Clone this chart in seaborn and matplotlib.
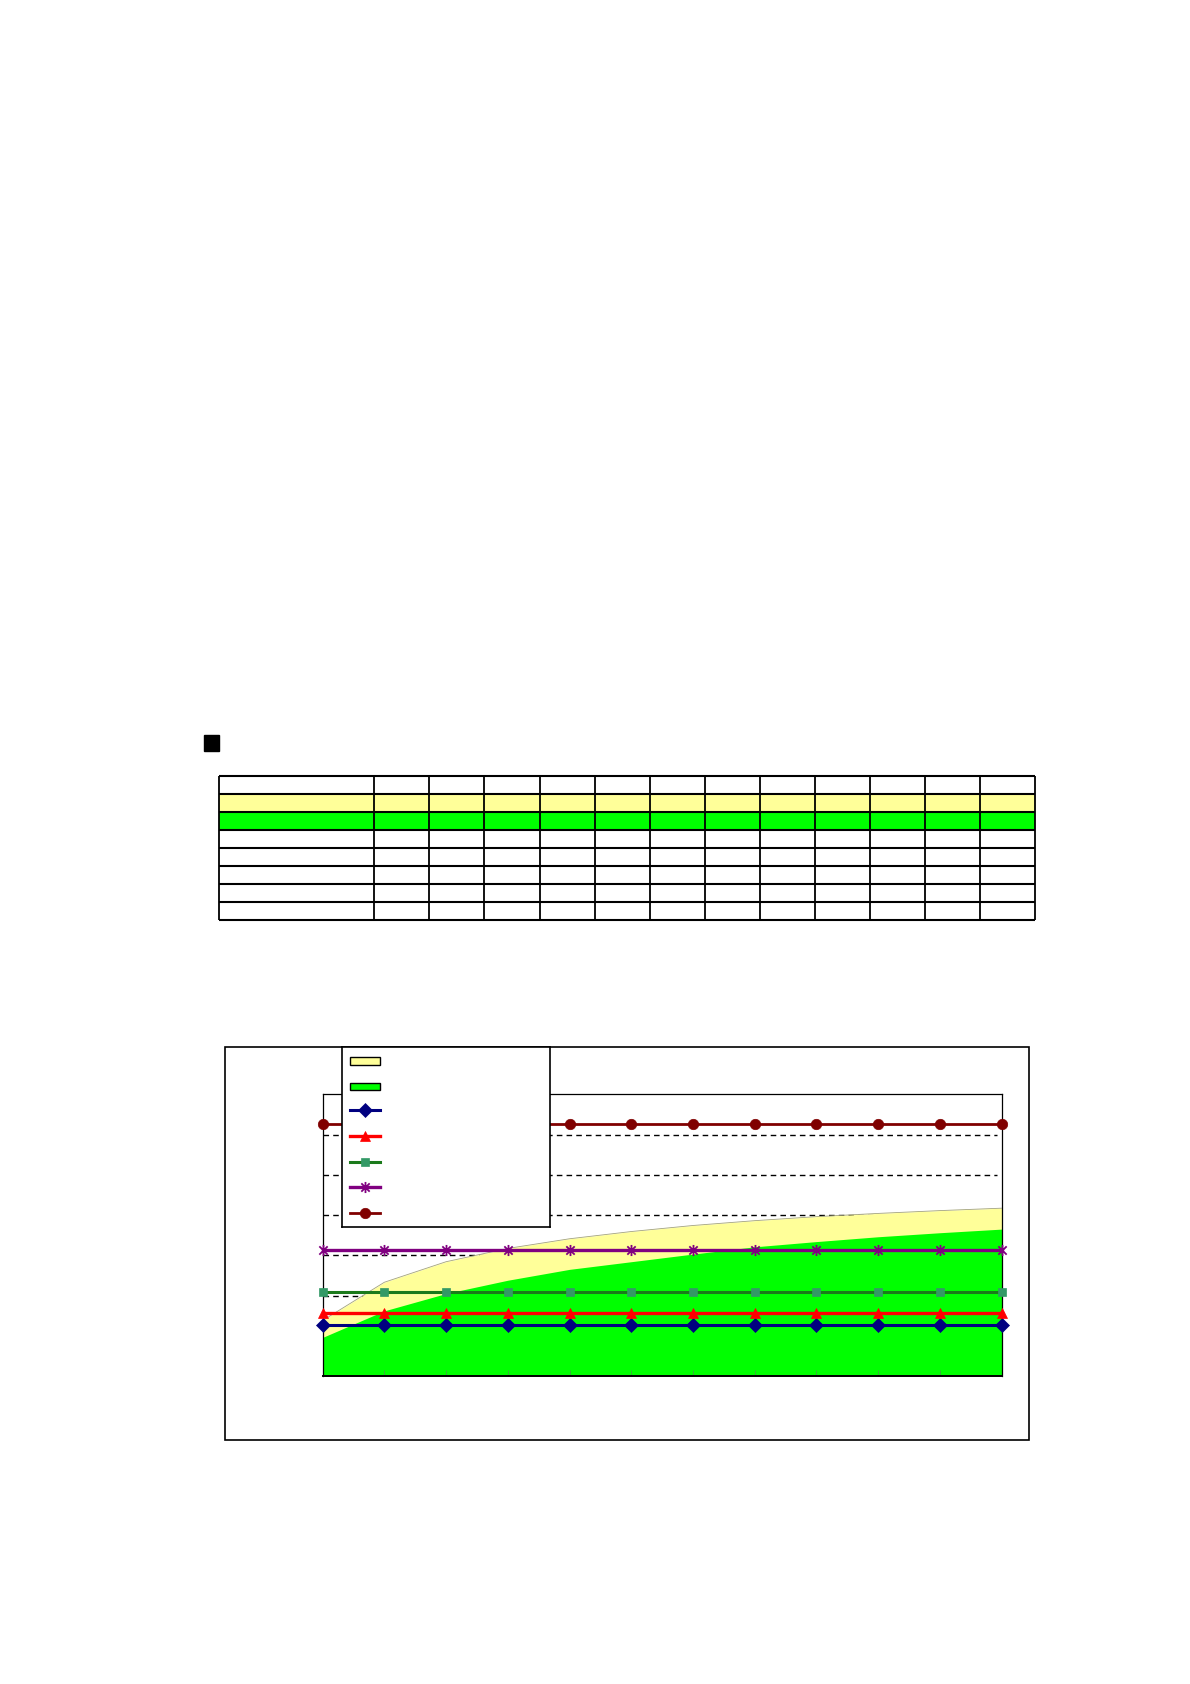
import matplotlib
matplotlib.use('agg')
import matplotlib.pyplot as plt
from matplotlib.patches import Rectangle
from matplotlib.path import Path
import seaborn as sns

W, H = 1190, 1684

# chart values (12 categories, y axis 0..7)
categories = list(range(12))
band_upper = [1.38, 2.33, 2.84, 3.17, 3.41, 3.59, 3.74, 3.86, 3.96, 4.04, 4.11, 4.17]
band_lower = [0.96, 1.62, 2.05, 2.38, 2.65, 2.84, 3.03, 3.21, 3.34, 3.46, 3.56, 3.65]
level_1 = [1.26] * 12   # navy diamonds
level_2 = [1.57] * 12   # red triangles
level_3 = [2.09] * 12   # green squares
level_4 = [3.14] * 12   # purple stars
level_5 = [6.27] * 12   # maroon circles

# table above the chart: 8 rows x 13 columns, empty cells
table_row_colors = ['white', '#FFFF99', '#00FF00', 'white', 'white', 'white', 'white', 'white']
n_table_cols = 13

YELLOW = '#FFFF99'
GREEN = '#00FF00'

# excel style star marker: X plus vertical bar
star = Path([(0, -1), (0, 1), (-0.75, -0.75), (0.75, 0.75), (-0.75, 0.75), (0.75, -0.75)],
            [Path.MOVETO, Path.LINETO, Path.MOVETO, Path.LINETO, Path.MOVETO, Path.LINETO])

fig = plt.figure(figsize=(W / 100, H / 100), dpi=100)

# page layer in pixel coordinates
page = fig.add_axes([0, 0, 1, 1], zorder=0)
page.set_xlim(0, W)
page.set_ylim(H, 0)
page.axis('off')

page.add_patch(Rectangle((204, 735), 15, 16, color='black'))

tx0, ty0 = 218.7, 775.7
first_w, col_w, row_h = 155.6, 55.07, 18.0
col_edges = [tx0] + [tx0 + first_w + i * col_w for i in range(n_table_cols)]
n_rows = len(table_row_colors)
for r, c in enumerate(table_row_colors):
    page.add_patch(Rectangle((tx0, ty0 + r * row_h), col_edges[-1] - tx0, row_h,
                             facecolor=c, edgecolor='none'))
page.hlines([ty0 + r * row_h for r in range(n_rows + 1)], tx0, col_edges[-1],
            color='black', linewidth=1.5)
page.vlines(col_edges, ty0, ty0 + n_rows * row_h, color='black', linewidth=1.3)

# chart frame
page.add_patch(Rectangle((225.3, 1047.3), 803.4, 392.7, fill=False,
                         edgecolor='black', linewidth=1.2))

# plot area
px0, px1, py0, py1 = 322.7, 1001.5, 1094.3, 1376
ax = fig.add_axes([px0 / W, 1 - py1 / H, (px1 - px0) / W, (py1 - py0) / H], zorder=1)
ax.set_xlim(0, 11)
ax.set_ylim(0, 7)
ax.set_yticks(range(8))
ax.set_xticks(categories)
ax.set_axisbelow('line')
for y in ax.get_yticks()[1:-1]:
    ax.axhline(y, xmax=0.993, color='black', linewidth=1.0, linestyle=(0, (4, 3)), zorder=0.5)

ax.fill_between(categories, band_upper, color=YELLOW, linewidth=0, zorder=1)
ax.plot(categories, band_upper, color='#a3a37a', linewidth=0.6, zorder=1.05)
ax.fill_between(categories, band_lower, color=GREEN, linewidth=0, zorder=1.1)

lines = [
    (level_1, '#000080', '#000080', 'D', 7, 2.2),
    (level_2, '#FF0000', '#FF0000', '^', 7, 2.4),
    (level_3, '#1B7A1B', '#339966', 's', 6, 2.2),
    (level_4, '#800080', '#800080', star, 8, 2.4),
    (level_5, '#800000', '#800000', 'o', 7.5, 2.0),
]


def marker_style(mk, mc):
    if mk is star:
        return dict(markerfacecolor='none', markeredgecolor=mc, markeredgewidth=1.3)
    return dict(markerfacecolor=mc, markeredgecolor=mc, markeredgewidth=0.5)


for vals, lc, mc, mk, ms, lw in lines:
    sns.lineplot(x=categories, y=vals, ax=ax, color=lc, marker=mk, markersize=ms,
                 linewidth=lw, clip_on=False, zorder=3, **marker_style(mk, mc))

ax.tick_params(axis='y', length=0, labelleft=False)
ax.tick_params(axis='x', direction='in', length=4.3, width=0.5, color='#4f8f4f',
               labelbottom=False)
for s in ax.spines.values():
    s.set_color('black')
    s.set_linewidth(0.9)
ax.spines['bottom'].set_linewidth(1.4)

# legend box (no text in the picture)
lx0, lx1, ly0, ly1 = 341.5, 549.5, 1047.3, 1227.3
leg = fig.add_axes([lx0 / W, 1 - ly1 / H, (lx1 - lx0) / W, (ly1 - ly0) / H], zorder=5)
leg.set_xlim(lx0, lx1)
leg.set_ylim(ly1, ly0)
leg.set_xticks([])
leg.set_yticks([])
leg.set_facecolor('white')
for s in leg.spines.values():
    s.set_linewidth(1.2)

leg.add_patch(Rectangle((350, 1057.3), 29.5, 8, facecolor=YELLOW, edgecolor='black', linewidth=1))
leg.add_patch(Rectangle((350, 1083.3), 29.5, 7, facecolor=GREEN, edgecolor='black', linewidth=1))
sample_y = [1110.3, 1136.3, 1162, 1187.3, 1213]
for (vals, lc, mc, mk, ms, lw), yy in zip(lines, sample_y):
    leg.plot([349.7, 380], [yy, yy], color=lc, linewidth=lw)
    leg.plot([364.8], [yy], marker=mk, markersize=ms, **marker_style(mk, mc))

fig.savefig('out.png', dpi=100)
